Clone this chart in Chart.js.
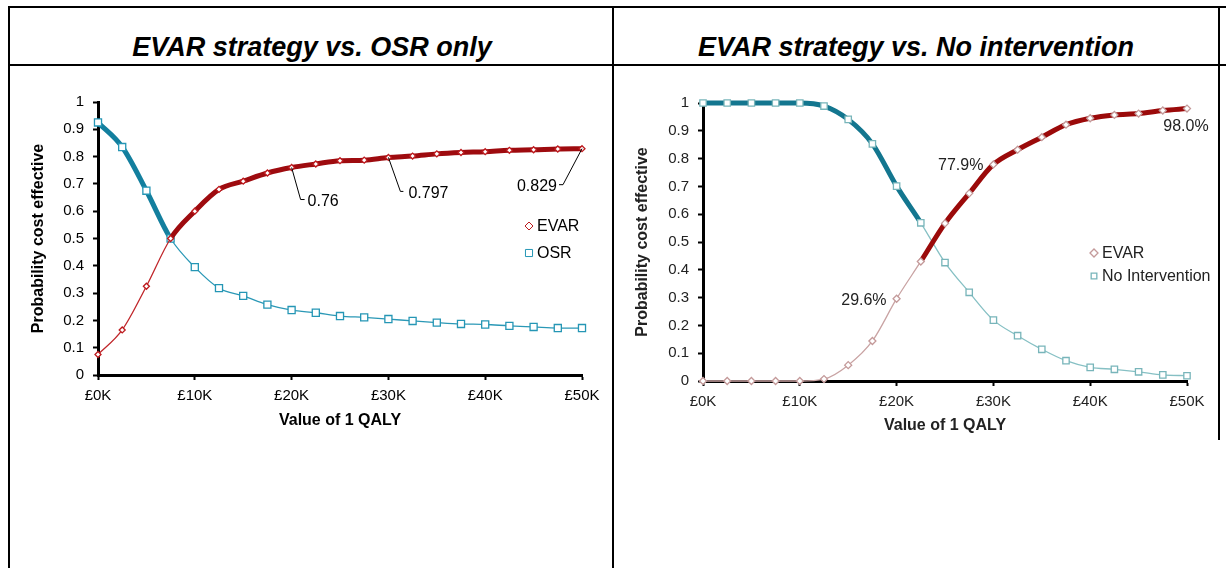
<!DOCTYPE html>
<html>
<head>
<meta charset="utf-8">
<script src="https://cdn.jsdelivr.net/npm/chart.js@4.4.1/dist/chart.umd.min.js"></script>
<style>
  body { margin: 0; width: 1226px; height: 568px; background: #fff; overflow: hidden; position: relative;
         font-family: "Liberation Sans", Arial, sans-serif; }
  .rule { position: absolute; background: #000; }
  .title { position: absolute; top: 32px; height: 30px; line-height: 30px; font-size: 27px;
           font-weight: bold; font-style: italic; text-align: center; color: #000; }
  canvas { position: absolute; }
</style>
</head>
<body>
<!-- table borders -->
<div class="rule" style="left:8px;top:6px;width:1218px;height:2px"></div>
<div class="rule" style="left:8px;top:64px;width:1218px;height:2px"></div>
<div class="rule" style="left:8px;top:6px;width:2px;height:562px"></div>
<div class="rule" style="left:612px;top:6px;width:2px;height:562px"></div>
<div class="rule" style="left:1218px;top:6px;width:2px;height:434px"></div>

<div class="title" style="left:10px;width:604px">EVAR strategy vs. OSR only</div>
<div class="title" style="left:614px;width:604px">EVAR strategy vs. No intervention</div>

<div style="position:absolute;left:10px;top:66px;width:602px;height:502px"><canvas id="leftChart"></canvas></div>
<div style="position:absolute;left:615px;top:66px;width:603px;height:502px"><canvas id="rightChart"></canvas></div>

<script>
// willingness to pay per QALY (£)
const wtp = [0, 2500, 5000, 7500, 10000, 12500, 15000, 17500, 20000, 22500, 25000,
             27500, 30000, 32500, 35000, 37500, 40000, 42500, 45000, 47500, 50000];
const xTickLabels = ['£0K', '£10K', '£20K', '£30K', '£40K', '£50K'];
const yTickLabels = ['0', '0.1', '0.2', '0.3', '0.4', '0.5', '0.6', '0.7', '0.8', '0.9', '1'];

// left panel: EVAR strategy vs OSR only
const evarVsOsr = [0.075, 0.165, 0.325, 0.50, 0.60, 0.68, 0.71, 0.74, 0.76, 0.773, 0.785,
                   0.787, 0.797, 0.802, 0.810, 0.815, 0.818, 0.823, 0.825, 0.828, 0.829];
const osrOnly   = [0.925, 0.835, 0.675, 0.50, 0.395, 0.318, 0.290, 0.258, 0.238, 0.228, 0.216,
                   0.211, 0.205, 0.198, 0.192, 0.187, 0.185, 0.180, 0.176, 0.172, 0.172];

// right panel: EVAR strategy vs no intervention
const evarVsNone     = [0, 0, 0, 0, 0, 0.007, 0.057, 0.144, 0.296, 0.430, 0.567,
                        0.675, 0.779, 0.832, 0.877, 0.922, 0.945, 0.957, 0.962, 0.973, 0.980];
const noIntervention = [1, 1, 1, 1, 1, 0.989, 0.941, 0.853, 0.701, 0.569, 0.426,
                        0.319, 0.219, 0.163, 0.114, 0.073, 0.049, 0.042, 0.033, 0.022, 0.019];

const FONT = '"Liberation Sans", Arial, sans-serif';

function pts(values) {
  return values.map((v, i) => ({ x: wtp[i], y: v }));
}

// labels, leader lines and a legend drawn inside the plot
const overlay = {
  id: 'overlay',
  afterDatasetsDraw(chart, args, o) {
    const ctx = chart.ctx;
    ctx.save();
    ctx.font = '16px ' + FONT;
    ctx.textBaseline = 'middle';
    (o.callouts || []).forEach(c => {
      const el = chart.getDatasetMeta(c.dataset).data[c.index];
      if (c.leader) {
        ctx.strokeStyle = '#000';
        ctx.lineWidth = 1;
        ctx.beginPath();
        ctx.moveTo(el.x, el.y);
        ctx.lineTo(el.x + c.leader[0], el.y + c.leader[1]);
        ctx.lineTo(el.x + c.leader[2], el.y + c.leader[1]);
        ctx.stroke();
      }
      ctx.fillStyle = o.textColor;
      ctx.textAlign = c.align;
      ctx.fillText(c.text, el.x + c.dx, el.y + c.dy);
    });
    const lg = o.legend;
    chart.data.datasets.forEach((ds, i) => {
      const y = lg.y + i * lg.gap;
      ctx.fillStyle = '#fff';
      ctx.strokeStyle = ds.pointBorderColor;
      Chart.helpers.drawPoint(ctx, { pointStyle: ds.pointStyle, radius: lg.radius[i], rotation: 0, borderWidth: 1.5 }, lg.x, y);
      ctx.fillStyle = o.textColor;
      ctx.textAlign = 'left';
      ctx.fillText(ds.label, lg.x + 8, y + 1);
    });
    ctx.restore();
  }
};

function makeChart(id, cfg) {
  const seriesSet = (label, data, style, radius, thick, thin, isThick) => ({
    label: label,
    data: pts(data),
    pointStyle: style,
    pointRadius: radius,
    pointHoverRadius: radius,
    pointBackgroundColor: '#fff',
    pointBorderColor: cfg.markers[style === 'rectRot' ? 0 : 1],
    pointBorderWidth: 1.3,
    borderColor: thin,
    borderWidth: 1.3,
    tension: 0.4,
    cubicInterpolationMode: 'monotone',
    clip: false,
    segment: {
      borderWidth: c => isThick(c) ? 5 : 1.3,
      borderColor: c => isThick(c) ? thick : thin
    }
  });

  return new Chart(document.getElementById(id), {
    type: 'line',
    data: {
      datasets: [
        seriesSet('EVAR', cfg.a, 'rectRot', cfg.radius[0], cfg.colors[0], cfg.colors[1], c => c.p0DataIndex >= cfg.cross),
        seriesSet(cfg.bLabel, cfg.b, 'rect', cfg.radius[1], cfg.colors[2], cfg.colors[3], c => c.p1DataIndex <= cfg.cross)
      ]
    },
    options: {
      responsive: true,
      maintainAspectRatio: false,
      animation: false,
      events: [],
      layout: { padding: cfg.padding },
      plugins: {
        legend: { display: false },
        tooltip: { enabled: false },
        overlay: { callouts: cfg.callouts, legend: cfg.legend, textColor: cfg.textColor }
      },
      scales: {
        x: {
          type: 'linear',
          min: 0,
          max: 50000,
          afterFit: s => { s.height = cfg.xHeight; },
          afterBuildTicks: s => { s.ticks = xTickLabels.map((t, i) => ({ value: i * 10000 })); },
          ticks: {
            callback: (v, i) => xTickLabels[i],
            font: { family: FONT, size: 15 },
            color: cfg.textColor,
            padding: 7,
            maxRotation: 0
          },
          grid: { drawOnChartArea: false, drawTicks: true, tickLength: 5, tickWidth: 2, tickColor: '#000' },
          border: { color: '#000', width: 3 },
          title: { display: true, text: 'Value of 1 QALY', font: { family: FONT, size: 16, weight: 'bold' },
                   color: cfg.textColor, padding: { top: 0, bottom: 0 } }
        },
        y: {
          min: 0,
          max: 1,
          afterFit: s => { s.width = 88; },
          afterBuildTicks: s => { s.ticks = yTickLabels.map((t, i) => ({ value: i / 10 })); },
          ticks: {
            callback: (v, i) => yTickLabels[i],
            font: { family: FONT, size: 15 },
            color: cfg.textColor,
            padding: 9
          },
          grid: { drawOnChartArea: false, drawTicks: true, tickLength: 5, tickWidth: 2, tickColor: '#000' },
          border: { color: '#000', width: 3 },
          title: { display: true, text: 'Probability cost effective', font: { family: FONT, size: 16, weight: 'bold' },
                   color: cfg.textColor, padding: { top: cfg.yTitlePad, bottom: 0 } }
        }
      }
    },
    plugins: [overlay]
  });
}

makeChart('leftChart', {
  a: evarVsOsr,
  b: osrOnly,
  bLabel: 'OSR',
  cross: 3,
  radius: [3, 5],
  colors: ['#9e0b0f', '#c0262a', '#137f9e', '#2a98b6'],
  markers: ['#bd1a1e', '#2596b5'],
  textColor: '#000',
  padding: { top: 36, right: 30, bottom: 138, left: 0 },
  xHeight: 55,
  yTitlePad: 19,
  callouts: [
    { dataset: 0, index: 8, text: '0.76', leader: [9, 32, 13], dx: 16, dy: 34, align: 'left' },
    { dataset: 0, index: 12, text: '0.797', leader: [12, 34, 15], dx: 20, dy: 36, align: 'left' },
    { dataset: 0, index: 20, text: '0.829', leader: [-19, 36, -23], dx: -25, dy: 38, align: 'right' }
  ],
  legend: { x: 519, y: 160, gap: 27, radius: [4, 5] }
});

makeChart('rightChart', {
  a: evarVsNone,
  b: noIntervention,
  bLabel: 'No Intervention',
  cross: 9,
  radius: [3.5, 4.5],
  colors: ['#9b0a0a', '#c9a3a3', '#13768f', '#86c0c4'],
  markers: ['#c49a9a', '#78b5ba'],
  textColor: '#222',
  padding: { top: 37, right: 31, bottom: 133, left: 0 },
  xHeight: 54,
  yTitlePad: 17.5,
  callouts: [
    { dataset: 0, index: 8, text: '29.6%', dx: -10, dy: 2, align: 'right' },
    { dataset: 0, index: 12, text: '77.9%', dx: -10, dy: 1, align: 'right' },
    { dataset: 0, index: 20, text: '98.0%', dx: -1, dy: 18, align: 'center' }
  ],
  legend: { x: 479, y: 187, gap: 23, radius: [4, 4] }
});
</script>
</body>
</html>
